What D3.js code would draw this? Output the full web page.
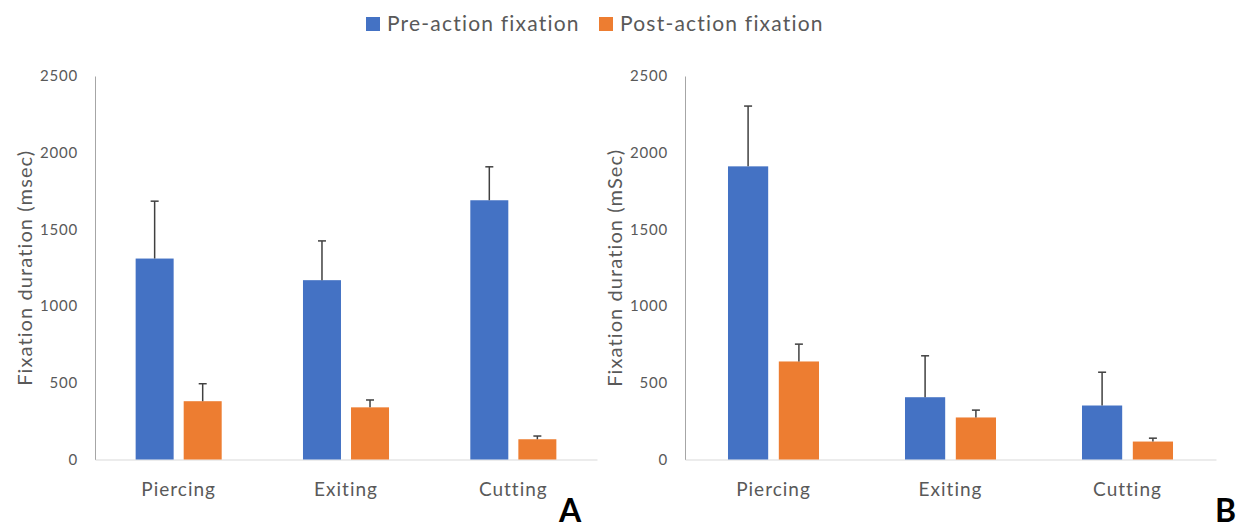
<!DOCTYPE html>
<html lang="en">
<head>
  <meta charset="UTF-8">
  <title>Fixation duration</title>
  <script src="https://d3js.org/d3.v7.min.js"></script>
  <style>
    body { margin: 0; background: #fff; font-family: Lato, "Open Sans", sans-serif; }
    .tick text { fill: #595959; }
    .y-axis path { stroke: #a6a6a6; }
    .x-axis path { stroke: #d9d9d9; }
    .err { stroke: #404040; stroke-width: 1.5; }
  </style>
</head>
<body>
  <svg width="1244" height="529"></svg>
  <script>
    const categories = ["Piercing", "Exiting", "Cutting"];
    const seriesNames = ["Pre-action fixation", "Post-action fixation"];
    const colors = ["#4472C4", "#ED7D31"];
    const yTicks = [0, 500, 1000, 1500, 2000, 2500];

    // panel A
    const preA = [1310, 1169, 1690];
    const preAErr = [374, 256, 218];
    const postA = [380, 340, 132];
    const postAErr = [114, 48, 21];

    // panel B
    const preB = [1911, 406, 352];
    const preBErr = [393, 270, 217];
    const postB = [639, 274, 117];
    const postBErr = [113, 48, 22];

    const svg = d3.select("svg");
    const plotTop = 76, plotBottom = 459.5;

    const y = d3.scaleLinear().domain([0, 2500]).range([plotBottom, plotTop]);

    // legend
    const legend = svg.append("g");
    const legendX = [366, 599];
    seriesNames.forEach((name, i) => {
      legend.append("rect")
        .attr("x", legendX[i]).attr("y", 17)
        .attr("width", 14).attr("height", 14)
        .attr("fill", colors[i]);
      legend.append("text")
        .attr("x", legendX[i] + 21).attr("y", 31)
        .attr("fill", "#595959")
        .style("font-size", "21px")
        .style("letter-spacing", "1.2px")
        .text(name);
    });

    function drawPanel(x0, x1, pre, preErr, post, postErr, yLabel, letter, letterX) {
      const g = svg.append("g");
      const x = d3.scaleBand().domain(categories).range([x0, x1]);
      const xs = d3.scaleBand().domain(seriesNames)
        .range([0, x.bandwidth()])
        .paddingInner(0.209).paddingOuter(0.846);

      g.append("g")
        .attr("class", "y-axis")
        .attr("transform", `translate(${x0},0)`)
        .call(d3.axisLeft(y).tickValues(yTicks).tickFormat(d3.format("d")).tickSize(0).tickPadding(17))
        .call(a => a.selectAll("text").style("font-size", "15px").style("font-family", "Lato")
          .style("letter-spacing", "0.8px"));

      g.append("g")
        .attr("class", "x-axis")
        .attr("transform", `translate(0,${plotBottom})`)
        .call(d3.axisBottom(x).tickSize(0).tickPadding(23))
        .call(a => a.selectAll("text").style("font-size", "19px").style("font-family", "Lato")
          .style("letter-spacing", "1px"));

      const rows = categories.map((c, i) => [
        { cat: c, s: seriesNames[0], v: pre[i], e: preErr[i], col: colors[0] },
        { cat: c, s: seriesNames[1], v: post[i], e: postErr[i], col: colors[1] }
      ]).flat();

      g.selectAll(".bar")
        .data(rows)
        .enter()
        .append("rect")
        .attr("x", d => x(d.cat) + xs(d.s))
        .attr("y", d => y(d.v))
        .attr("width", xs.bandwidth())
        .attr("height", d => y(0) - y(d.v))
        .attr("fill", d => d.col);

      const cx = d => x(d.cat) + xs(d.s) + xs.bandwidth() / 2;
      g.selectAll(".errv")
        .data(rows)
        .enter()
        .append("line")
        .attr("class", "err")
        .attr("x1", cx).attr("x2", cx)
        .attr("y1", d => y(d.v)).attr("y2", d => y(d.v + d.e));
      g.selectAll(".errc")
        .data(rows)
        .enter()
        .append("line")
        .attr("class", "err")
        .attr("x1", d => cx(d) - 4).attr("x2", d => cx(d) + 4)
        .attr("y1", d => y(d.v + d.e)).attr("y2", d => y(d.v + d.e));

      g.append("text")
        .attr("transform", `translate(${x0 - 70},${(plotTop + plotBottom) / 2}) rotate(-90)`)
        .attr("text-anchor", "middle")
        .attr("dy", "0.35em")
        .attr("fill", "#595959")
        .style("font-size", "20px")
        .style("letter-spacing", "1.1px")
        .text(yLabel);

      g.append("text")
        .attr("x", letterX).attr("y", 522)
        .attr("fill", "#000")
        .style("font-size", "32px")
        .style("font-weight", "bold")
        .text(letter);
    }

    drawPanel(95, 597, preA, preAErr, postA, postAErr, "Fixation duration (msec)", "A", 559);
    drawPanel(685, 1216, preB, preBErr, postB, postBErr, "Fixation duration (mSec)", "B", 1215);
  </script>
</body>
</html>
